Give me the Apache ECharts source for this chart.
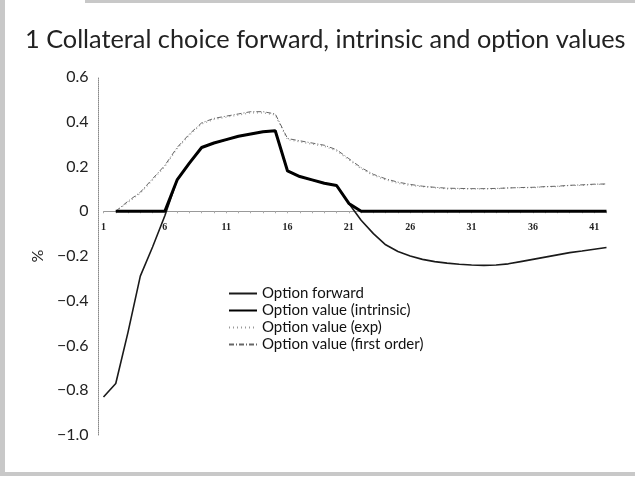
<!DOCTYPE html>
<html><head><meta charset="utf-8">
<script src="https://cdn.jsdelivr.net/npm/echarts@6/dist/echarts.min.js"></script>
<style>html,body{margin:0;padding:0;background:#fff}#c{width:635px;height:484px}</style>
</head><body><div id="c"></div>
<script>
var titleText = '1 Collateral choice forward, intrinsic and option values';
var categories = ['1','2','3','4','5','6','7','8','9','10','11','12','13','14','15','16','17','18','19','20','21','22','23','24','25','26','27','28','29','30','31','32','33','34','35','36','37','38','39','40','41','42'];
var seriesNames = ['Option forward','Option value (intrinsic)','Option value (exp)','Option value (first order)'];
var optionForward = [-0.83,-0.77,-0.54,-0.29,-0.16,-0.02,0.14,0.215,0.285,0.305,0.32,0.335,0.345,0.355,0.36,0.18,0.155,0.14,0.125,0.115,0.035,-0.04,-0.10,-0.15,-0.18,-0.20,-0.215,-0.225,-0.232,-0.237,-0.24,-0.242,-0.24,-0.235,-0.225,-0.215,-0.205,-0.195,-0.185,-0.178,-0.17,-0.162];
var optionIntrinsic = [null,0,0,0,0,0,0.14,0.215,0.285,0.305,0.32,0.335,0.345,0.355,0.36,0.18,0.155,0.14,0.125,0.115,0.035,0,0,0,0,0,0,0,0,0,0,0,0,0,0,0,0,0,0,0,0,0];
var optionExp = [null,0,0.04,0.08,0.14,0.2,0.28,0.34,0.39,0.41,0.42,0.43,0.44,0.44,0.43,0.32,0.31,0.3,0.29,0.27,0.23,0.19,0.16,0.14,0.125,0.115,0.11,0.105,0.1,0.1,0.1,0.1,0.1,0.105,0.105,0.105,0.11,0.11,0.115,0.115,0.12,0.12];
var optionFirstOrder = [null,0,0.045,0.085,0.145,0.205,0.285,0.345,0.395,0.415,0.425,0.435,0.445,0.445,0.435,0.325,0.315,0.305,0.295,0.275,0.235,0.195,0.165,0.145,0.13,0.12,0.112,0.107,0.103,0.102,0.101,0.101,0.102,0.104,0.106,0.107,0.11,0.112,0.116,0.118,0.121,0.122];
var yTicks = {min:-1.0, max:0.6, interval:0.2};

var chart = echarts.init(document.getElementById('c'), null, {renderer:'canvas'});
var font = 'Lato';
var gridTop = 77, gridBottom = 49, H = 484;
var zeroShift = (H - gridTop - gridBottom) * (yTicks.max - 0) / (yTicks.max - yTicks.min) - (H - gridTop - gridBottom);
chart.setOption({
  animation:false,
  backgroundColor:'#fff',
  title:{text:titleText,left:20,top:22,textStyle:{fontFamily:font,fontSize:25.3,fontWeight:'normal',color:'#222'}},
  graphic:[
    {type:'rect',shape:{x:0,y:0,width:5,height:476},style:{fill:'#c8c8c8'},silent:true},
    {type:'rect',shape:{x:85,y:0,width:550,height:3},style:{fill:'#c8c8c8'},silent:true},
    {type:'rect',shape:{x:0,y:472,width:635,height:4},style:{fill:'#c8c8c8'},silent:true}
  ],
  legend:{orient:'vertical',left:223,top:281,itemGap:2,itemWidth:28,itemHeight:10,
    itemStyle:{opacity:0},
    textStyle:{fontFamily:font,fontSize:15,color:'#111'},
    data:seriesNames},
  grid:{left:103.5,right:28.5,top:gridTop,bottom:gridBottom,outerBoundsMode:'none',containLabel:false},
  xAxis:{type:'category',data:categories,boundaryGap:false,position:'bottom',offset:zeroShift,
    axisLine:{onZero:false,lineStyle:{color:'#999',width:1}},
    axisTick:{show:true,interval:0,length:2,lineStyle:{color:'#aaa'}},
    axisLabel:{interval:4,margin:11,fontFamily:'Liberation Serif',fontSize:10,fontWeight:'bold',color:'#222'},
    splitLine:{show:false}},
  yAxis:{type:'value',min:yTicks.min,max:yTicks.max,interval:yTicks.interval,offset:5,
    name:'%',nameLocation:'middle',nameGap:52,nameRotate:90,
    nameTextStyle:{fontFamily:font,fontSize:16,color:'#222'},
    axisLine:{show:true,lineStyle:{color:'#888',type:'dotted',width:1}},
    axisTick:{show:false},
    splitLine:{show:false},
    axisLabel:{margin:10,fontFamily:font,fontSize:16,color:'#222',
      formatter:function(v){var r=Math.round(v*10)/10; if(r===0) return '0'; return (r<0?'\u2212':'')+Math.abs(r).toFixed(1);}}},
  series:[
    {name:seriesNames[0],type:'line',data:optionForward,symbol:'none',z:3,lineStyle:{color:'#1a1a1a',width:1.6},itemStyle:{color:'#1a1a1a'}},
    {name:seriesNames[1],type:'line',data:optionIntrinsic,symbol:'none',z:4,lineStyle:{color:'#000',width:3},itemStyle:{color:'#000'}},
    {name:seriesNames[2],type:'line',data:optionExp,symbol:'none',z:2,lineStyle:{color:'#999',width:1.2,type:[1,3]},itemStyle:{color:'#999'}},
    {name:seriesNames[3],type:'line',data:optionFirstOrder,symbol:'none',z:2,lineStyle:{color:'#666',width:1,type:[5,2,1,2]},itemStyle:{color:'#666'}}
  ]
});
</script></body></html>
